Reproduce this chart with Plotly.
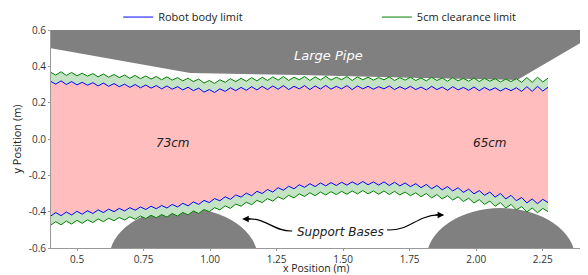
import numpy as np
import plotly.graph_objects as go

# ---------------- data ----------------
X_START, X_END, N_PTS = 0.40, 2.27, 95
CLEARANCE = 0.05  # 5 cm clearance

upper_body = [0.318, 0.302, 0.320, 0.300, 0.316, 0.298, 0.312, 0.296, 0.310, 0.292,
              0.308, 0.290, 0.305, 0.288, 0.302, 0.284, 0.300, 0.282, 0.297, 0.280,
              0.294, 0.276, 0.292, 0.274, 0.288, 0.270, 0.285, 0.266, 0.280, 0.258,
              0.272, 0.256, 0.276, 0.262, 0.282, 0.266, 0.284, 0.268, 0.288, 0.270,
              0.290, 0.272, 0.292, 0.274, 0.294, 0.272, 0.290, 0.276, 0.294, 0.272,
              0.292, 0.275, 0.295, 0.274, 0.290, 0.276, 0.294, 0.272, 0.292, 0.276,
              0.290, 0.274, 0.288, 0.276, 0.292, 0.272, 0.288, 0.274, 0.290, 0.272,
              0.286, 0.270, 0.290, 0.272, 0.286, 0.268, 0.288, 0.270, 0.284, 0.268,
              0.286, 0.266, 0.284, 0.268, 0.282, 0.264, 0.280, 0.266, 0.282, 0.262,
              0.288, 0.262, 0.290, 0.264, 0.285]

lower_body = [-0.425, -0.405, -0.422, -0.402, -0.418, -0.398, -0.414, -0.395, -0.410, -0.390,
              -0.405, -0.386, -0.400, -0.382, -0.396, -0.378, -0.392, -0.374, -0.388, -0.370,
              -0.384, -0.366, -0.380, -0.360, -0.374, -0.354, -0.368, -0.346, -0.360, -0.338,
              -0.350, -0.328, -0.340, -0.318, -0.332, -0.308, -0.320, -0.298, -0.312, -0.288,
              -0.300, -0.278, -0.292, -0.268, -0.282, -0.260, -0.274, -0.252, -0.266, -0.246,
              -0.262, -0.242, -0.258, -0.240, -0.256, -0.238, -0.254, -0.236, -0.252, -0.234,
              -0.252, -0.236, -0.254, -0.236, -0.256, -0.238, -0.258, -0.242, -0.262, -0.246,
              -0.268, -0.250, -0.274, -0.256, -0.280, -0.262, -0.286, -0.268, -0.294, -0.276,
              -0.302, -0.284, -0.310, -0.292, -0.320, -0.300, -0.330, -0.310, -0.340, -0.322,
              -0.352, -0.330, -0.356, -0.332, -0.350]

pipe_x = [0.39, 0.40, 0.925, 1.34, 1.79, 2.154, 2.40, 2.40, 0.39]
pipe_y = [0.503, 0.50, 0.363, 0.352, 0.336, 0.325, 0.536, 0.62, 0.62]

base_centers = [0.90, 2.0925]
base_center_y = -0.659
base_radius = 0.279

x_ticks = [0.5, 0.75, 1.00, 1.25, 1.50, 1.75, 2.00, 2.25]
x_tick_labels = ["0.5", "0.75", "1.00", "1.25", "1.50", "1.75", "2.00", "2.25"]
y_ticks = [0.6, 0.4, 0.2, 0.0, -0.2, -0.4, -0.6]
y_tick_labels = ["0.6", "0.4", "0.2", "0.0", "-0.2", "-0.4", "-0.6"]

# ---------------- derived ----------------
xs = np.linspace(X_START, X_END, N_PTS)
ub = np.array(upper_body)
lb = np.array(lower_body)
ug = ub + CLEARANCE
lg = lb - CLEARANCE

BLUE = "#0000ff"
GREEN = "#008000"
PINK = "#ffbdbd"
LGREEN = "#c4e3c4"
GREY = "#808080"

fig = go.Figure()

def band(y_top, y_bot, color):
    fig.add_trace(go.Scatter(
        x=np.concatenate([xs, xs[::-1]]),
        y=np.concatenate([y_top, y_bot[::-1]]),
        fill="toself", fillcolor=color, line=dict(width=0),
        mode="lines", hoverinfo="skip", showlegend=False))

band(ub, lb, PINK)
band(ug, ub, LGREEN)
band(lb, lg, LGREEN)

fig.add_trace(go.Scatter(x=xs, y=ug, mode="lines", line=dict(color=GREEN, width=1),
                         name="5cm clearance limit", legend="legend2"))
fig.add_trace(go.Scatter(x=xs, y=lg, mode="lines", line=dict(color=GREEN, width=1),
                         showlegend=False))
fig.add_trace(go.Scatter(x=xs, y=ub, mode="lines", line=dict(color=BLUE, width=1),
                         name="Robot body limit", legend="legend"))
fig.add_trace(go.Scatter(x=xs, y=lb, mode="lines", line=dict(color=BLUE, width=1),
                         showlegend=False))

shapes = []
# large pipe
path = "M " + " L ".join(f"{a},{b}" for a, b in zip(pipe_x, pipe_y)) + " Z"
shapes.append(dict(type="path", path=path, xref="x", yref="y", fillcolor=GREY,
                   line=dict(width=0), layer="below"))
# support bases
for cx in base_centers:
    shapes.append(dict(type="circle", xref="x", yref="y",
                       x0=cx - base_radius, x1=cx + base_radius,
                       y0=base_center_y - base_radius, y1=base_center_y + base_radius,
                       fillcolor=GREY, line=dict(width=0), layer="below"))

def px2x(p):
    return 1.0 + (p - 210) / 266.0

def py2y(p):
    return 0.6 - (p - 30) / 181.7

def curve(pts):
    (a, b), (c, d), (e, f), (g, h) = pts
    return (f"M {px2x(a)},{py2y(b)} C {px2x(c)},{py2y(d)} "
            f"{px2x(e)},{py2y(f)} {px2x(g)},{py2y(h)}")

shapes.append(dict(type="path", xref="x", yref="y",
                   path=curve([(292, 231), (275, 232), (266, 218), (248, 219)]),
                   line=dict(color="black", width=1.2)))
shapes.append(dict(type="path", xref="x", yref="y",
                   path=curve([(387, 230), (410, 231), (415, 216), (438, 215)]),
                   line=dict(color="black", width=1.2)))

ann_font = dict(family="DejaVu Sans", size=12, color="#222222")
annotations = [
    dict(x=1.444, y=0.462, text="<i>Large Pipe</i>", showarrow=False,
         font=dict(family="DejaVu Sans", size=13, color="white")),
    dict(x=0.861, y=-0.022, text="<i>73cm</i>", showarrow=False, font=ann_font),
    dict(x=2.053, y=-0.022, text="<i>65cm</i>", showarrow=False, font=ann_font),
    dict(x=1.489, y=-0.512, text="<i>Support Bases</i>", showarrow=False, font=ann_font),
    dict(x=px2x(242), y=py2y(219), ax=10, ay=0, text="", showarrow=True,
         arrowhead=2, arrowsize=1.1, arrowwidth=1.2, arrowcolor="black", standoff=0),
    dict(x=px2x(444), y=py2y(215), ax=-10, ay=0, text="", showarrow=True,
         arrowhead=2, arrowsize=1.1, arrowwidth=1.2, arrowcolor="black", standoff=0),
    # x axis title
    dict(x=0.5, y=-0.092, xref="paper", yref="paper", text="x Position (m)",
         showarrow=False, yanchor="middle", borderpad=0,
         font=dict(family="Open Sans", size=10.5, color="#222222")),
]

axis_common = dict(showgrid=False, zeroline=False, showline=True, linecolor="#999999",
                   linewidth=1, ticks="outside", ticklen=2, tickcolor="#999999",
                   tickfont=dict(family="Open Sans", size=10, color="#333333"))

fig.update_layout(
    width=588, height=275,
    margin=dict(l=51, r=8, t=30, b=27, autoexpand=False),
    paper_bgcolor="white", plot_bgcolor="white",
    font=dict(family="Open Sans", size=11, color="#222222"),
    xaxis=dict(range=[0.402, 2.39], tickvals=x_ticks, ticktext=x_tick_labels,
               automargin=False, **axis_common),
    yaxis=dict(range=[-0.6, 0.6], tickvals=y_ticks, ticktext=y_tick_labels,
               title=dict(text="y Position (m)", standoff=4,
                          font=dict(family="Open Sans", size=11, color="#222222")),
               automargin=False, **axis_common),
    legend=dict(x=0.127, y=0.938, yref="container", xanchor="left", yanchor="middle",
                orientation="h", bgcolor="rgba(0,0,0,0)",
                font=dict(family="Open Sans", size=11)),
    legend2=dict(x=0.616, y=0.938, yref="container", xanchor="left", yanchor="middle",
                 orientation="h", bgcolor="rgba(0,0,0,0)",
                 font=dict(family="Open Sans", size=11)),
    shapes=shapes,
    annotations=annotations,
)

fig.write_html("out.html", config={"displayModeBar": False},
               post_script="document.body.style.margin='0';")
